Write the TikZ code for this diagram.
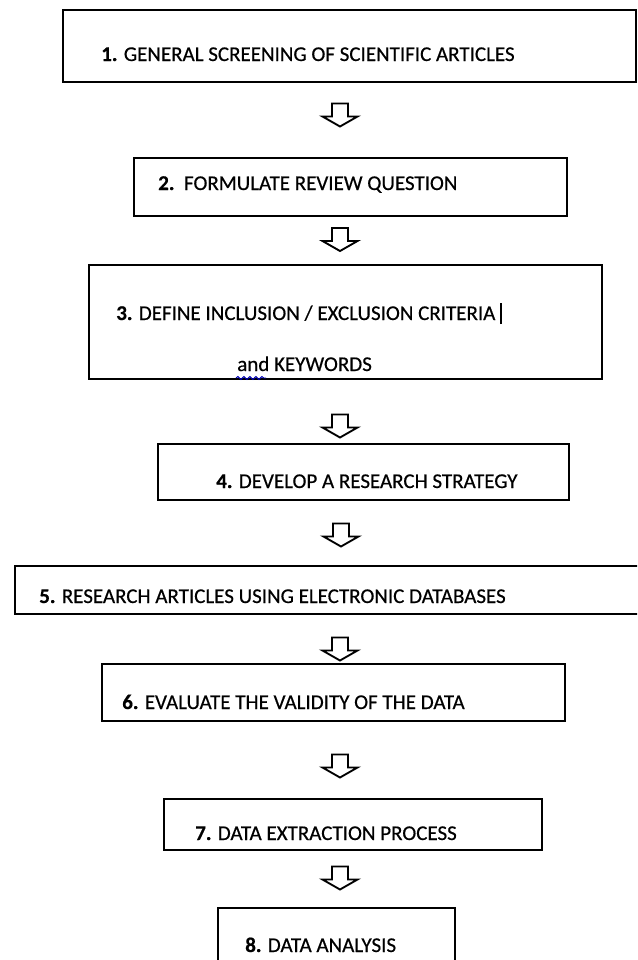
\documentclass[tikz,border=0pt]{standalone}
\usepackage{fontspec}
\setmainfont{Carlito}[FakeBold=0.5]
\usetikzlibrary{fit,decorations.pathmorphing}
\begin{document}
\begin{tikzpicture}[x=0.75pt,y=-0.75pt,
  stepbox/.style={draw=black,line width=2.2pt,inner sep=0pt},
  steptext/.style={anchor=base west,inner sep=0pt,font=\fontsize{15.75}{19}\selectfont},
  blockarrow/.style={draw=black,line width=1.4pt,line join=miter,fill=white},
  cursorbar/.style={draw=black,line width=1pt},
  squiggle/.style={draw=blue!70!black,line width=0.7pt,decorate,decoration={snake,amplitude=1.1pt,segment length=4.5pt}}]
\useasboundingbox (0,0) rectangle (637,960);
\clip (0,0) rectangle (637,960);
% corner coordinates
\coordinate (p1a) at (63,10);  \coordinate (p1b) at (636,82);
\coordinate (p2a) at (134,158); \coordinate (p2b) at (567,216);
\coordinate (p3a) at (89,265);  \coordinate (p3b) at (602,379);
\coordinate (p4a) at (158,444); \coordinate (p4b) at (569,500);
\coordinate (p5a) at (15,566);  \coordinate (p5b) at (650,614);
\coordinate (p6a) at (102,664); \coordinate (p6b) at (565,721);
\coordinate (p7a) at (164,799); \coordinate (p7b) at (542,850);
\coordinate (p8a) at (218,908); \coordinate (p8b) at (455,985);
% boxes
\node[stepbox,fit=(p1a)(p1b)] (b1) {};
\node[stepbox,fit=(p2a)(p2b)] (b2) {};
\node[stepbox,fit=(p3a)(p3b)] (b3) {};
\node[stepbox,fit=(p4a)(p4b)] (b4) {};
\node[stepbox,fit=(p5a)(p5b)] (b5) {};
\node[stepbox,fit=(p6a)(p6b)] (b6) {};
\node[stepbox,fit=(p7a)(p7b)] (b7) {};
\node[stepbox,fit=(p8a)(p8b)] (b8) {};
% texts
\node[steptext] (t1) at (101,61) {\textbf{1.} GENERAL SCREENING OF SCIENTIFIC ARTICLES};
\node[steptext] (t2) at (158,190) {\textbf{2.}\ \ FORMULATE REVIEW QUESTION};
\node[steptext] (t3) at (116,320) {\textbf{3.} DEFINE INCLUSION / EXCLUSION CRITERIA};
\node[steptext] (t3b) at (237,371) {and KEYWORDS};
\node[steptext] (t4) at (216,488) {\textbf{4.} DEVELOP A RESEARCH STRATEGY};
\node[steptext] (t5) at (39,603) {\textbf{5.} RESEARCH ARTICLES USING ELECTRONIC DATABASES};
\node[steptext] (t6) at (122,709) {\textbf{6.} EVALUATE THE VALIDITY OF THE DATA};
\node[steptext] (t7) at (195,840) {\textbf{7.} DATA EXTRACTION PROCESS};
\node[steptext] (t8) at (245,952) {\textbf{8.} DATA ANALYSIS};
% cursor and spelling mark
\draw[cursorbar] ([xshift=4pt,yshift=-3pt]t3.base east) -- ([xshift=4pt,yshift=13pt]t3.base east);
\coordinate (sq1) at (236,378);
\coordinate (sq2) at (266,378);
\draw[squiggle] (sq1) -- (sq2);
% block arrows
\coordinate (a1) at (340,115);
\coordinate (a2) at (340,239.5);
\coordinate (a3) at (340,426);
\coordinate (a4) at (341,535);
\coordinate (a5) at (340,649);
\coordinate (a6) at (340,766);
\coordinate (a7) at (340,878);
\foreach \a in {a1,a2,a3,a4,a5,a6,a7}{
  \draw[blockarrow,shift={(\a)}] (-8,-11.5) -- (8,-11.5) -- (8,1.5) -- (17.5,1.5) -- (0,11.5) -- (-17.5,1.5) -- (-8,1.5) -- cycle;
}
\end{tikzpicture}
\end{document}
